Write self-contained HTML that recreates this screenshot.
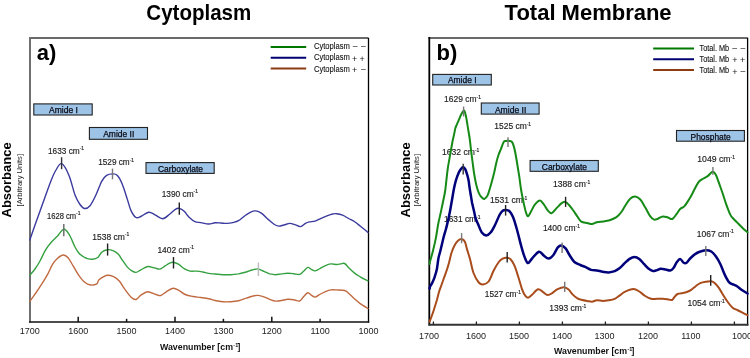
<!DOCTYPE html>
<html><head><meta charset="utf-8"><title>FTIR spectra</title>
<style>
html,body{margin:0;padding:0;background:#fff;}
body{width:750px;height:358px;overflow:hidden;position:relative;font-family:"Liberation Sans",sans-serif;}
svg{position:absolute;left:0;top:0;will-change:transform;}
</style></head>
<body>
<svg width="750" height="358" viewBox="0 0 750 358">
<text x="146.3" y="19.7" font-family="Liberation Sans, sans-serif" font-weight="bold" font-size="22.3" textLength="105" lengthAdjust="spacingAndGlyphs" fill="#000">Cytoplasm</text>
<text x="504.6" y="19.9" font-family="Liberation Sans, sans-serif" font-weight="bold" font-size="22" textLength="167" lengthAdjust="spacingAndGlyphs" fill="#000">Total Membrane</text>
<line x1="29" y1="38" x2="368.2" y2="38" stroke="#6a6a6a" stroke-width="2"/>
<line x1="30" y1="37" x2="30" y2="322.5" stroke="#707070" stroke-width="2"/>
<line x1="368.5" y1="37.8" x2="368.5" y2="322.5" stroke="#000" stroke-width="1.3"/>
<line x1="29" y1="322" x2="369.3" y2="322" stroke="#111" stroke-width="1.7"/>
<line x1="428.5" y1="38" x2="747.5" y2="38" stroke="#6a6a6a" stroke-width="2"/>
<line x1="429.3" y1="37" x2="429.3" y2="325.5" stroke="#000" stroke-width="1.8"/>
<line x1="747.6" y1="37.8" x2="747.6" y2="325.5" stroke="#000" stroke-width="1.3"/>
<line x1="428.5" y1="324.7" x2="748.4" y2="324.7" stroke="#333" stroke-width="2"/>
<line x1="78.2" y1="316.8" x2="78.2" y2="322" stroke="#111" stroke-width="1.5"/>
<line x1="126.6" y1="318.8" x2="126.6" y2="322" stroke="#111" stroke-width="1.5"/>
<line x1="175.0" y1="316.8" x2="175.0" y2="322" stroke="#111" stroke-width="1.5"/>
<line x1="223.4" y1="318.8" x2="223.4" y2="322" stroke="#111" stroke-width="1.5"/>
<line x1="271.8" y1="316.8" x2="271.8" y2="322" stroke="#111" stroke-width="1.5"/>
<line x1="320.1" y1="318.8" x2="320.1" y2="322" stroke="#111" stroke-width="1.5"/>
<line x1="433.4" y1="321.5" x2="433.4" y2="324.7" stroke="#222" stroke-width="1.3"/>
<line x1="476.4" y1="321.5" x2="476.4" y2="324.7" stroke="#222" stroke-width="1.3"/>
<line x1="519.4" y1="321.5" x2="519.4" y2="324.7" stroke="#222" stroke-width="1.3"/>
<line x1="562.4" y1="321.5" x2="562.4" y2="324.7" stroke="#222" stroke-width="1.3"/>
<line x1="605.4" y1="321.5" x2="605.4" y2="324.7" stroke="#222" stroke-width="1.3"/>
<line x1="648.4" y1="321.5" x2="648.4" y2="324.7" stroke="#222" stroke-width="1.3"/>
<line x1="691.4" y1="321.5" x2="691.4" y2="324.7" stroke="#222" stroke-width="1.3"/>
<line x1="734.4" y1="321.5" x2="734.4" y2="324.7" stroke="#222" stroke-width="1.3"/>
<text x="29.8" y="334.4" font-family="Liberation Sans, sans-serif" font-size="9" text-anchor="middle" fill="#222">1700</text>
<text x="78.2" y="334.4" font-family="Liberation Sans, sans-serif" font-size="9" text-anchor="middle" fill="#222">1600</text>
<text x="126.6" y="334.4" font-family="Liberation Sans, sans-serif" font-size="9" text-anchor="middle" fill="#222">1500</text>
<text x="175.0" y="334.4" font-family="Liberation Sans, sans-serif" font-size="9" text-anchor="middle" fill="#222">1400</text>
<text x="223.4" y="334.4" font-family="Liberation Sans, sans-serif" font-size="9" text-anchor="middle" fill="#222">1300</text>
<text x="271.8" y="334.4" font-family="Liberation Sans, sans-serif" font-size="9" text-anchor="middle" fill="#222">1200</text>
<text x="320.1" y="334.4" font-family="Liberation Sans, sans-serif" font-size="9" text-anchor="middle" fill="#222">1100</text>
<text x="368.5" y="334.4" font-family="Liberation Sans, sans-serif" font-size="9" text-anchor="middle" fill="#222">1000</text>
<text x="429.0" y="339" font-family="Liberation Sans, sans-serif" font-size="9" text-anchor="middle" fill="#222">1700</text>
<text x="476.1" y="339" font-family="Liberation Sans, sans-serif" font-size="9" text-anchor="middle" fill="#222">1600</text>
<text x="519.0" y="339" font-family="Liberation Sans, sans-serif" font-size="9" text-anchor="middle" fill="#222">1500</text>
<text x="562.0" y="339" font-family="Liberation Sans, sans-serif" font-size="9" text-anchor="middle" fill="#222">1400</text>
<text x="604.5" y="339" font-family="Liberation Sans, sans-serif" font-size="9" text-anchor="middle" fill="#222">1300</text>
<text x="648.0" y="339" font-family="Liberation Sans, sans-serif" font-size="9" text-anchor="middle" fill="#222">1200</text>
<text x="690.9" y="339" font-family="Liberation Sans, sans-serif" font-size="9" text-anchor="middle" fill="#222">1100</text>
<text x="732" y="339" font-family="Liberation Sans, sans-serif" font-size="9" fill="#222">1000</text>
<text x="160" y="350" font-family="Liberation Sans, sans-serif" font-weight="bold" font-size="8.5" textLength="73" lengthAdjust="spacingAndGlyphs" fill="#111">Wavenumber [cm</text>
<text x="233.3" y="346.5" font-family="Liberation Sans, sans-serif" font-weight="bold" font-size="5.5" fill="#111">-1</text>
<text x="237.5" y="350" font-family="Liberation Sans, sans-serif" font-weight="bold" font-size="8.5" fill="#111">]</text>
<text x="554.1" y="354.4" font-family="Liberation Sans, sans-serif" font-weight="bold" font-size="8.5" textLength="73" lengthAdjust="spacingAndGlyphs" fill="#111">Wavenumber [cm</text>
<text x="627.4" y="350.9" font-family="Liberation Sans, sans-serif" font-weight="bold" font-size="5.5" fill="#111">-1</text>
<text x="631.6" y="354.4" font-family="Liberation Sans, sans-serif" font-weight="bold" font-size="8.5" fill="#111">]</text>
<text transform="translate(11.2 217.5) rotate(-90)" font-family="Liberation Sans, sans-serif" font-weight="bold" font-size="12.6" textLength="75.2" lengthAdjust="spacingAndGlyphs" fill="#000">Absorbance</text>
<text transform="translate(22.3 206.4) rotate(-90)" font-family="Liberation Sans, sans-serif" font-size="7.2" textLength="52.4" lengthAdjust="spacingAndGlyphs" fill="#222">[Arbitrary Units]</text>
<text transform="translate(409.8 217.5) rotate(-90)" font-family="Liberation Sans, sans-serif" font-weight="bold" font-size="12.6" textLength="75.2" lengthAdjust="spacingAndGlyphs" fill="#000">Absorbance</text>
<text transform="translate(419.2 206.4) rotate(-90)" font-family="Liberation Sans, sans-serif" font-size="7.2" textLength="52.4" lengthAdjust="spacingAndGlyphs" fill="#222">[Arbitrary Units]</text>
<text x="36.8" y="60.3" font-family="Liberation Sans, sans-serif" font-weight="bold" font-size="22" fill="#000">a)</text>
<text x="436.5" y="60.4" font-family="Liberation Sans, sans-serif" font-weight="bold" font-size="22" fill="#000">b)</text>
<line x1="270.7" y1="47.1" x2="306.2" y2="47.1" stroke="#007800" stroke-width="2.0"/>
<text x="313.9" y="49.1" font-family="Liberation Sans, sans-serif" font-size="8.7" textLength="36.0" lengthAdjust="spacingAndGlyphs" fill="#111" stroke="#111" stroke-width="0.1">Cytoplasm</text>
<text x="355.2" y="48.9" font-family="Liberation Sans, sans-serif" font-size="8.6" text-anchor="middle" fill="#222">–</text>
<text x="363.4" y="48.9" font-family="Liberation Sans, sans-serif" font-size="8.6" text-anchor="middle" fill="#222">–</text>
<line x1="270.7" y1="57.8" x2="306.2" y2="57.8" stroke="#000070" stroke-width="2.0"/>
<text x="313.9" y="60.2" font-family="Liberation Sans, sans-serif" font-size="8.7" textLength="36.0" lengthAdjust="spacingAndGlyphs" fill="#111" stroke="#111" stroke-width="0.1">Cytoplasm</text>
<text x="354.6" y="61.5" font-family="Liberation Sans, sans-serif" font-size="9" text-anchor="middle" fill="#222">+</text>
<text x="362.2" y="61.5" font-family="Liberation Sans, sans-serif" font-size="9" text-anchor="middle" fill="#222">+</text>
<line x1="270.7" y1="68.5" x2="306.2" y2="68.5" stroke="#8c3c10" stroke-width="2.0"/>
<text x="313.9" y="71.8" font-family="Liberation Sans, sans-serif" font-size="8.7" textLength="36.0" lengthAdjust="spacingAndGlyphs" fill="#111" stroke="#111" stroke-width="0.1">Cytoplasm</text>
<text x="354.6" y="72.8" font-family="Liberation Sans, sans-serif" font-size="9" text-anchor="middle" fill="#222">+</text>
<text x="363.4" y="71.6" font-family="Liberation Sans, sans-serif" font-size="8.6" text-anchor="middle" fill="#222">–</text>
<line x1="653.2" y1="48.6" x2="694.0" y2="48.6" stroke="#007800" stroke-width="2.0"/>
<text x="699.5" y="50.6" font-family="Liberation Sans, sans-serif" font-size="8.7" textLength="29.7" lengthAdjust="spacingAndGlyphs" fill="#111" stroke="#111" stroke-width="0.1">Total. Mb</text>
<text x="734.7" y="50.5" font-family="Liberation Sans, sans-serif" font-size="8.6" text-anchor="middle" fill="#222">–</text>
<text x="743.0" y="50.5" font-family="Liberation Sans, sans-serif" font-size="8.6" text-anchor="middle" fill="#222">–</text>
<line x1="653.2" y1="59.2" x2="694.0" y2="59.2" stroke="#000070" stroke-width="2.0"/>
<text x="699.5" y="61.9" font-family="Liberation Sans, sans-serif" font-size="8.7" textLength="29.7" lengthAdjust="spacingAndGlyphs" fill="#111" stroke="#111" stroke-width="0.1">Total. Mb</text>
<text x="734.8" y="63.4" font-family="Liberation Sans, sans-serif" font-size="9" text-anchor="middle" fill="#222">+</text>
<text x="742.6" y="63.4" font-family="Liberation Sans, sans-serif" font-size="9" text-anchor="middle" fill="#222">+</text>
<line x1="653.2" y1="70.0" x2="694.0" y2="70.0" stroke="#8c3c10" stroke-width="2.0"/>
<text x="699.5" y="73.2" font-family="Liberation Sans, sans-serif" font-size="8.7" textLength="29.7" lengthAdjust="spacingAndGlyphs" fill="#111" stroke="#111" stroke-width="0.1">Total. Mb</text>
<text x="734.8" y="74.8" font-family="Liberation Sans, sans-serif" font-size="9" text-anchor="middle" fill="#222">+</text>
<text x="743.0" y="73.6" font-family="Liberation Sans, sans-serif" font-size="8.6" text-anchor="middle" fill="#222">–</text>
<rect x="33.8" y="103.9" width="58.4" height="11.1" fill="#9dc3e6" stroke="#222" stroke-width="1.1"/>
<text x="49.0" y="112.9" font-family="Liberation Sans, sans-serif" font-size="8.3" textLength="29.0" lengthAdjust="spacingAndGlyphs" fill="#0a0a14" stroke="#0a0a14" stroke-width="0.25">Amide I</text>
<rect x="89.4" y="127.5" width="58.1" height="11.8" fill="#9dc3e6" stroke="#222" stroke-width="1.1"/>
<text x="103.2" y="137.0" font-family="Liberation Sans, sans-serif" font-size="8.3" textLength="31.1" lengthAdjust="spacingAndGlyphs" fill="#0a0a14" stroke="#0a0a14" stroke-width="0.25">Amide II</text>
<rect x="146.0" y="162.6" width="68.2" height="10.8" fill="#9dc3e6" stroke="#222" stroke-width="1.1"/>
<text x="157.9" y="171.7" font-family="Liberation Sans, sans-serif" font-size="8.3" textLength="45.2" lengthAdjust="spacingAndGlyphs" fill="#0a0a14" stroke="#0a0a14" stroke-width="0.25">Carboxylate</text>
<rect x="432.7" y="74.4" width="58.6" height="10.6" fill="#9dc3e6" stroke="#222" stroke-width="1.1"/>
<text x="447.9" y="83.2" font-family="Liberation Sans, sans-serif" font-size="8.3" textLength="28.7" lengthAdjust="spacingAndGlyphs" fill="#0a0a14" stroke="#0a0a14" stroke-width="0.25">Amide I</text>
<rect x="481.3" y="103.0" width="57.8" height="11.1" fill="#9dc3e6" stroke="#222" stroke-width="1.1"/>
<text x="494.9" y="112.6" font-family="Liberation Sans, sans-serif" font-size="8.3" textLength="31.5" lengthAdjust="spacingAndGlyphs" fill="#0a0a14" stroke="#0a0a14" stroke-width="0.25">Amide II</text>
<rect x="530.1" y="160.5" width="68.2" height="10.8" fill="#9dc3e6" stroke="#222" stroke-width="1.1"/>
<text x="541.8" y="169.8" font-family="Liberation Sans, sans-serif" font-size="8.3" textLength="45.2" lengthAdjust="spacingAndGlyphs" fill="#0a0a14" stroke="#0a0a14" stroke-width="0.25">Carboxylate</text>
<rect x="676.5" y="130.5" width="67.9" height="10.7" fill="#9dc3e6" stroke="#222" stroke-width="1.1"/>
<text x="690.6" y="140.1" font-family="Liberation Sans, sans-serif" font-size="8.3" textLength="40.2" lengthAdjust="spacingAndGlyphs" fill="#0a0a14" stroke="#0a0a14" stroke-width="0.25">Phosphate</text>
<text x="48.0" y="153.6" font-family="Liberation Sans, sans-serif" font-size="8.2" fill="#222" stroke="#222" stroke-width="0.15"><tspan textLength="31.7" lengthAdjust="spacingAndGlyphs">1633 cm</tspan><tspan dy="-3.2" font-size="5">-1</tspan></text>
<text x="98.2" y="164.7" font-family="Liberation Sans, sans-serif" font-size="8.2" fill="#222" stroke="#222" stroke-width="0.15"><tspan textLength="31.5" lengthAdjust="spacingAndGlyphs">1529 cm</tspan><tspan dy="-3.2" font-size="5">-1</tspan></text>
<text x="161.7" y="196.6" font-family="Liberation Sans, sans-serif" font-size="8.2" fill="#222" stroke="#222" stroke-width="0.15"><tspan textLength="31.9" lengthAdjust="spacingAndGlyphs">1390 cm</tspan><tspan dy="-3.2" font-size="5">-1</tspan></text>
<text x="47.0" y="218.6" font-family="Liberation Sans, sans-serif" font-size="8.2" fill="#222" stroke="#222" stroke-width="0.15"><tspan textLength="29.1" lengthAdjust="spacingAndGlyphs">1628 cm</tspan><tspan dy="-3.2" font-size="5">-1</tspan></text>
<text x="92.3" y="239.6" font-family="Liberation Sans, sans-serif" font-size="8.2" fill="#222" stroke="#222" stroke-width="0.15"><tspan textLength="32.5" lengthAdjust="spacingAndGlyphs">1538 cm</tspan><tspan dy="-3.2" font-size="5">-1</tspan></text>
<text x="157.4" y="252.5" font-family="Liberation Sans, sans-serif" font-size="8.2" fill="#222" stroke="#222" stroke-width="0.15"><tspan textLength="32.3" lengthAdjust="spacingAndGlyphs">1402 cm</tspan><tspan dy="-3.2" font-size="5">-1</tspan></text>
<text x="444.0" y="102.1" font-family="Liberation Sans, sans-serif" font-size="8.2" fill="#222" stroke="#222" stroke-width="0.15"><tspan textLength="32.5" lengthAdjust="spacingAndGlyphs">1629 cm</tspan><tspan dy="-3.2" font-size="5">-1</tspan></text>
<text x="442.0" y="154.9" font-family="Liberation Sans, sans-serif" font-size="8.2" fill="#222" stroke="#222" stroke-width="0.15"><tspan textLength="32.9" lengthAdjust="spacingAndGlyphs">1632 cm</tspan><tspan dy="-3.2" font-size="5">-1</tspan></text>
<text x="444.0" y="222.0" font-family="Liberation Sans, sans-serif" font-size="8.2" fill="#222" stroke="#222" stroke-width="0.15"><tspan textLength="32.0" lengthAdjust="spacingAndGlyphs">1631 cm</tspan><tspan dy="-3.2" font-size="5">-1</tspan></text>
<text x="494.3" y="129.4" font-family="Liberation Sans, sans-serif" font-size="8.2" fill="#222" stroke="#222" stroke-width="0.15"><tspan textLength="32.4" lengthAdjust="spacingAndGlyphs">1525 cm</tspan><tspan dy="-3.2" font-size="5">-1</tspan></text>
<text x="490.0" y="202.8" font-family="Liberation Sans, sans-serif" font-size="8.2" fill="#222" stroke="#222" stroke-width="0.15"><tspan textLength="32.9" lengthAdjust="spacingAndGlyphs">1531 cm</tspan><tspan dy="-3.2" font-size="5">-1</tspan></text>
<text x="484.8" y="296.9" font-family="Liberation Sans, sans-serif" font-size="8.2" fill="#222" stroke="#222" stroke-width="0.15"><tspan textLength="31.7" lengthAdjust="spacingAndGlyphs">1527 cm</tspan><tspan dy="-3.2" font-size="5">-1</tspan></text>
<text x="552.9" y="187.0" font-family="Liberation Sans, sans-serif" font-size="8.2" fill="#222" stroke="#222" stroke-width="0.15"><tspan textLength="32.9" lengthAdjust="spacingAndGlyphs">1388 cm</tspan><tspan dy="-3.2" font-size="5">-1</tspan></text>
<text x="542.9" y="230.7" font-family="Liberation Sans, sans-serif" font-size="8.2" fill="#222" stroke="#222" stroke-width="0.15"><tspan textLength="32.6" lengthAdjust="spacingAndGlyphs">1400 cm</tspan><tspan dy="-3.2" font-size="5">-1</tspan></text>
<text x="549.2" y="310.8" font-family="Liberation Sans, sans-serif" font-size="8.2" fill="#222" stroke="#222" stroke-width="0.15"><tspan textLength="32.7" lengthAdjust="spacingAndGlyphs">1393 cm</tspan><tspan dy="-3.2" font-size="5">-1</tspan></text>
<text x="697.3" y="162.0" font-family="Liberation Sans, sans-serif" font-size="8.2" fill="#222" stroke="#222" stroke-width="0.15"><tspan textLength="33.2" lengthAdjust="spacingAndGlyphs">1049 cm</tspan><tspan dy="-3.2" font-size="5">-1</tspan></text>
<text x="696.8" y="236.5" font-family="Liberation Sans, sans-serif" font-size="8.2" fill="#222" stroke="#222" stroke-width="0.15"><tspan textLength="32.6" lengthAdjust="spacingAndGlyphs">1067 cm</tspan><tspan dy="-3.2" font-size="5">-1</tspan></text>
<text x="687.4" y="305.9" font-family="Liberation Sans, sans-serif" font-size="8.2" fill="#222" stroke="#222" stroke-width="0.15"><tspan textLength="33.0" lengthAdjust="spacingAndGlyphs">1054 cm</tspan><tspan dy="-3.2" font-size="5">-1</tspan></text>
<path d="M29.8 240.0 C31.0 236.7 34.4 226.7 36.8 220.0 C39.2 213.3 41.6 206.7 44.0 200.0 C46.4 193.3 49.3 185.0 51.3 180.0 C53.3 175.0 54.3 172.7 56.0 170.0 C57.7 167.3 59.4 162.8 61.6 163.7 C63.8 164.6 66.8 170.2 69.0 175.4 C71.2 180.6 73.2 190.2 75.0 195.0 C76.8 199.8 78.4 202.2 80.0 204.5 C81.6 206.8 83.0 208.3 84.7 208.5 C86.4 208.7 88.1 207.9 90.0 205.7 C91.9 203.4 94.0 199.1 95.9 195.0 C97.9 190.9 99.9 184.6 101.7 181.3 C103.5 178.0 104.8 176.6 106.6 175.4 C108.4 174.2 110.7 173.9 112.5 173.9 C114.3 173.9 115.8 173.7 117.4 175.4 C119.0 177.1 120.7 180.3 122.3 184.2 C123.9 188.1 125.8 194.5 127.2 198.9 C128.7 203.3 129.5 207.5 131.0 210.6 C132.5 213.7 134.4 216.5 136.0 217.5 C137.6 218.5 138.7 217.4 140.8 216.5 C142.9 215.6 146.3 212.5 148.7 212.2 C151.1 211.9 152.7 213.7 155.0 214.8 C157.3 215.9 160.3 218.8 162.7 218.7 C165.1 218.6 167.5 215.8 169.6 214.2 C171.7 212.6 173.8 210.3 175.4 209.3 C177.0 208.3 177.8 208.1 179.3 208.4 C180.8 208.7 182.6 209.8 184.2 211.3 C185.8 212.8 187.3 215.5 189.1 217.2 C190.9 218.9 193.1 220.8 195.0 221.7 C196.9 222.6 198.5 222.2 200.8 222.6 C203.1 223.0 206.3 224.0 208.7 224.0 C211.1 224.0 213.0 223.0 215.0 222.8 C217.0 222.6 219.0 222.9 220.9 223.0 C222.8 223.1 224.8 223.5 226.7 223.4 C228.6 223.3 230.6 223.1 232.6 222.6 C234.6 222.1 236.6 221.8 238.5 220.7 C240.4 219.6 242.4 217.6 244.3 216.2 C246.2 214.8 248.2 213.2 250.2 212.3 C252.1 211.4 254.0 210.7 256.0 210.9 C258.0 211.1 260.0 212.2 262.0 213.6 C264.0 215.0 265.9 217.4 267.8 219.1 C269.8 220.8 271.9 222.8 273.7 224.0 C275.5 225.2 276.9 225.9 278.6 226.1 C280.3 226.3 282.0 225.4 283.9 225.0 C285.8 224.6 288.0 223.5 289.8 223.4 C291.6 223.3 292.9 224.1 294.7 224.6 C296.5 225.1 298.7 226.8 300.5 226.6 C302.3 226.4 303.9 224.2 305.4 223.4 C306.9 222.6 307.7 222.3 309.3 221.9 C310.9 221.5 313.2 221.7 315.2 221.1 C317.2 220.5 319.1 219.2 321.1 218.3 C323.1 217.4 325.1 216.5 327.0 215.8 C328.9 215.1 331.2 214.3 332.8 214.0 C334.4 213.7 335.1 213.5 336.7 213.7 C338.3 213.9 340.6 214.4 342.6 215.2 C344.6 216.0 346.6 217.4 348.5 218.5 C350.4 219.6 352.4 220.2 354.3 221.5 C356.2 222.8 357.9 224.2 360.2 226.0 C362.5 227.8 366.7 231.4 368.0 232.5" fill="none" stroke="#3a3a9e" stroke-width="1.40" stroke-linejoin="round" stroke-linecap="round"/>
<path d="M30.0 275.0 C30.8 274.0 33.3 271.3 35.0 269.0 C36.7 266.7 38.2 264.2 40.0 261.0 C41.8 257.8 43.7 253.1 45.6 249.9 C47.5 246.7 49.5 244.3 51.5 242.0 C53.5 239.7 55.2 238.3 57.3 236.2 C59.3 234.1 61.8 229.6 63.8 229.3 C65.8 229.0 67.1 231.2 69.0 234.2 C70.9 237.1 73.4 243.9 75.0 247.0 C76.6 250.1 77.5 251.4 78.8 253.0 C80.1 254.6 81.7 255.6 83.0 256.5 C84.3 257.4 85.1 257.9 86.7 258.3 C88.3 258.8 90.7 259.3 92.5 259.2 C94.3 259.1 96.3 258.6 97.8 257.5 C99.3 256.4 100.1 253.6 101.7 252.3 C103.3 251.0 105.6 249.9 107.6 249.7 C109.6 249.5 111.7 250.2 113.5 250.9 C115.3 251.7 116.9 252.7 118.4 254.2 C119.9 255.7 120.8 258.0 122.3 260.1 C123.8 262.2 125.7 265.2 127.2 266.9 C128.7 268.6 129.6 269.5 131.1 270.4 C132.6 271.3 134.4 272.5 136.0 272.4 C137.6 272.3 138.9 270.9 140.8 269.9 C142.8 268.9 145.4 266.8 147.7 266.5 C150.0 266.2 152.5 267.5 154.5 267.9 C156.5 268.3 158.1 269.4 159.8 269.1 C161.5 268.8 163.1 267.2 164.7 266.2 C166.3 265.2 168.2 263.8 169.6 263.2 C171.0 262.6 171.6 262.1 173.1 262.3 C174.6 262.5 176.6 263.1 178.4 264.2 C180.2 265.3 182.2 267.5 184.2 268.7 C186.1 269.9 188.0 270.7 190.1 271.1 C192.2 271.5 194.8 271.0 196.9 271.1 C199.0 271.2 200.8 271.6 202.8 272.0 C204.8 272.4 206.7 273.1 208.7 273.4 C210.7 273.7 212.7 273.8 215.0 274.0 C217.3 274.2 220.2 274.6 222.8 274.7 C225.4 274.8 228.0 274.8 230.6 274.7 C233.2 274.6 235.9 274.3 238.5 273.9 C241.1 273.4 244.0 272.6 246.3 272.0 C248.6 271.4 250.2 270.5 252.2 270.0 C254.1 269.5 256.1 268.7 258.0 268.9 C259.9 269.1 261.9 270.6 263.9 271.4 C265.9 272.2 267.9 273.3 269.8 273.9 C271.8 274.4 273.7 274.7 275.6 274.7 C277.6 274.7 279.5 274.1 281.5 273.9 C283.5 273.7 285.8 273.3 287.8 273.3 C289.8 273.3 291.7 273.5 293.7 273.7 C295.7 273.9 298.0 274.8 299.6 274.4 C301.2 274.0 302.1 272.5 303.5 271.3 C304.9 270.1 306.5 267.7 307.8 267.4 C309.1 267.1 310.1 268.7 311.3 269.3 C312.5 269.9 313.5 270.9 314.8 270.9 C316.1 270.8 317.4 269.9 319.1 269.0 C320.8 268.1 323.0 266.7 325.0 265.8 C327.0 264.9 328.9 264.1 330.9 263.9 C332.8 263.7 335.1 264.5 336.7 264.5 C338.3 264.5 339.4 264.1 340.7 263.9 C342.0 263.7 343.3 262.9 344.6 263.5 C345.9 264.1 346.9 265.8 348.5 267.4 C350.1 269.0 352.4 271.3 354.3 272.9 C356.2 274.5 357.9 275.4 360.2 276.8 C362.5 278.2 366.7 280.3 368.0 281.0" fill="none" stroke="#35a040" stroke-width="1.40" stroke-linejoin="round" stroke-linecap="round"/>
<path d="M30.0 301.2 C31.0 299.8 33.8 295.8 35.8 293.0 C37.8 290.2 39.7 287.3 41.7 284.2 C43.7 281.1 45.8 277.6 47.6 274.4 C49.4 271.1 50.8 267.3 52.4 264.7 C54.0 262.1 55.5 260.1 57.3 258.5 C59.1 256.9 61.4 255.1 63.2 255.0 C65.0 254.9 66.5 256.0 68.1 257.8 C69.7 259.6 71.2 262.7 73.0 265.6 C74.8 268.5 76.8 272.6 78.8 275.4 C80.8 278.2 82.7 280.7 84.7 282.3 C86.7 283.9 88.6 284.7 90.6 285.0 C92.6 285.3 95.4 284.7 96.8 283.9 C98.2 283.1 97.6 281.2 98.8 280.0 C100.0 278.8 102.2 277.5 103.7 276.7 C105.2 275.9 106.0 275.3 107.6 275.3 C109.2 275.3 111.5 275.8 113.5 276.7 C115.5 277.6 117.5 279.1 119.3 281.0 C121.1 282.9 122.2 285.7 124.2 288.4 C126.2 291.1 129.1 295.3 131.1 297.2 C133.1 299.1 134.4 299.8 136.0 299.5 C137.6 299.2 138.9 296.5 140.8 295.2 C142.8 293.9 145.2 291.8 147.7 291.7 C150.2 291.6 153.7 293.9 155.9 294.5 C158.1 295.1 159.0 296.0 160.8 295.5 C162.6 295.0 164.6 292.8 166.6 291.6 C168.6 290.4 171.0 288.5 173.1 288.3 C175.2 288.1 177.3 289.6 179.3 290.6 C181.3 291.6 182.9 293.5 185.2 294.5 C187.5 295.5 190.4 296.0 193.0 296.5 C195.6 297.0 198.2 297.1 200.8 297.5 C203.4 297.9 206.3 298.3 208.7 298.8 C211.1 299.3 212.7 300.0 215.0 300.5 C217.3 301.0 220.2 301.5 222.8 301.7 C225.4 301.9 228.0 301.9 230.6 301.7 C233.2 301.5 235.9 301.3 238.5 300.7 C241.1 300.1 244.0 298.9 246.3 298.2 C248.6 297.4 250.2 296.7 252.2 296.2 C254.1 295.7 256.1 295.3 258.0 295.4 C259.9 295.5 261.9 296.1 263.9 296.8 C265.9 297.5 267.9 298.7 269.8 299.4 C271.8 300.1 273.7 300.9 275.6 301.1 C277.6 301.3 279.5 300.8 281.5 300.5 C283.5 300.2 285.8 299.4 287.8 299.3 C289.8 299.2 291.7 299.4 293.7 299.7 C295.7 300.0 298.0 301.5 299.6 301.0 C301.2 300.5 302.1 298.1 303.5 296.7 C304.9 295.3 306.5 293.1 307.8 292.8 C309.1 292.6 310.1 294.5 311.3 295.2 C312.5 295.9 313.9 297.2 315.2 297.1 C316.5 297.0 317.5 295.7 319.1 294.8 C320.7 293.9 323.0 292.6 325.0 291.8 C327.0 291.0 328.9 290.2 330.9 289.9 C332.8 289.6 334.4 289.8 336.7 289.9 C339.0 290.0 342.6 289.9 344.6 290.5 C346.6 291.1 346.9 291.8 348.5 293.2 C350.1 294.6 352.4 297.0 354.3 298.7 C356.2 300.4 357.9 302.0 360.2 303.6 C362.5 305.2 366.7 307.7 368.0 308.5" fill="none" stroke="#c06a40" stroke-width="1.40" stroke-linejoin="round" stroke-linecap="round"/>
<path d="M429.6 264.0 C429.7 263.5 429.6 263.0 430.2 260.8 C430.8 258.6 432.1 254.4 433.0 250.7 C433.9 247.0 434.9 242.8 435.8 238.4 C436.7 234.0 437.4 228.3 438.2 224.0 C439.0 219.7 440.0 216.1 440.8 212.3 C441.6 208.5 442.4 204.9 443.1 201.2 C443.9 197.5 444.6 195.1 445.3 190.0 C446.0 184.9 446.8 175.8 447.5 170.5 C448.2 165.2 448.8 162.3 449.5 158.4 C450.2 154.5 450.9 150.1 451.5 147.0 C452.1 143.9 452.3 142.4 452.8 140.0 C453.3 137.6 454.1 134.4 454.5 132.4 C454.9 130.4 455.0 129.3 455.4 128.0 C455.8 126.7 456.2 126.0 456.8 124.6 C457.4 123.2 458.3 121.3 459.0 119.6 C459.7 117.9 460.4 116.0 461.2 114.5 C462.0 113.0 463.0 110.9 463.7 110.6 C464.4 110.3 464.7 111.6 465.1 112.8 C465.5 114.0 465.9 115.9 466.3 117.9 C466.7 119.9 467.0 122.4 467.4 124.6 C467.8 126.8 468.1 129.1 468.5 131.3 C468.9 133.5 469.2 135.2 469.6 138.0 C470.0 140.8 470.4 144.3 470.8 148.0 C471.2 151.7 471.9 156.8 472.3 160.0 C472.7 163.2 472.9 164.7 473.2 167.0 C473.5 169.3 473.8 171.4 474.2 174.0 C474.6 176.6 475.2 179.8 475.7 182.3 C476.2 184.8 476.8 186.9 477.4 189.0 C478.0 191.1 478.8 193.1 479.6 194.6 C480.4 196.1 481.6 197.3 482.4 198.0 C483.2 198.7 483.6 199.2 484.5 198.8 C485.4 198.4 486.7 197.2 487.6 195.4 C488.5 193.6 489.3 190.4 490.0 188.0 C490.7 185.6 491.3 183.6 492.0 181.0 C492.7 178.4 493.4 175.7 494.2 172.5 C494.9 169.3 495.8 164.9 496.5 162.0 C497.2 159.1 497.8 157.1 498.5 155.0 C499.2 152.9 499.9 151.5 500.8 149.3 C501.7 147.1 502.8 143.4 503.7 142.0 C504.6 140.6 504.9 141.2 506.0 141.0 C507.1 140.8 509.0 140.8 510.0 141.0 C511.0 141.2 511.4 141.3 512.0 142.0 C512.6 142.7 512.9 143.5 513.5 145.4 C514.1 147.3 514.8 149.9 515.4 153.2 C516.0 156.5 516.8 161.1 517.4 165.0 C518.0 168.9 518.6 172.4 519.3 176.7 C519.9 181.0 520.5 186.2 521.3 191.0 C522.1 195.8 523.4 201.7 524.2 205.4 C525.0 209.1 525.6 211.4 526.2 213.2 C526.9 215.0 527.3 216.5 528.1 216.2 C528.9 215.9 530.0 213.3 531.1 211.3 C532.2 209.3 533.5 206.2 535.0 204.4 C536.5 202.6 538.4 200.5 539.9 200.5 C541.4 200.5 542.5 202.8 543.8 204.4 C545.1 206.0 546.4 208.8 547.7 210.3 C549.0 211.8 550.3 213.4 551.6 213.2 C552.9 213.0 554.5 210.4 555.5 209.3 C556.5 208.2 556.8 207.9 557.8 206.9 C558.8 205.9 560.5 204.0 561.7 203.2 C563.0 202.4 564.1 201.6 565.3 201.9 C566.5 202.2 567.5 203.4 568.8 204.8 C570.1 206.2 571.9 208.6 573.3 210.5 C574.7 212.4 575.9 214.5 577.2 216.3 C578.5 218.2 579.6 220.5 581.3 221.6 C583.0 222.7 585.4 222.6 587.2 223.0 C589.0 223.4 590.4 224.2 592.0 224.1 C593.6 224.0 595.1 222.6 596.9 222.2 C598.7 221.8 600.8 221.7 602.8 221.4 C604.8 221.1 606.9 221.0 608.7 220.5 C610.6 220.0 612.4 219.2 613.9 218.5 C615.4 217.8 616.5 217.2 617.8 216.0 C619.1 214.8 620.5 213.2 621.7 211.5 C622.9 209.8 623.8 207.9 625.2 205.8 C626.6 203.7 628.5 200.3 630.2 198.8 C631.9 197.3 633.5 196.5 635.2 196.6 C636.9 196.7 638.6 197.7 640.3 199.5 C642.0 201.3 643.6 204.8 645.3 207.6 C647.0 210.4 648.8 214.4 650.3 216.4 C651.8 218.4 652.8 219.2 654.1 219.6 C655.4 220.0 656.4 219.2 657.9 218.7 C659.4 218.2 661.2 216.6 662.9 216.4 C664.6 216.2 666.3 217.1 667.9 217.5 C669.5 217.9 670.8 219.6 672.3 219.0 C673.8 218.4 675.4 215.6 676.7 213.9 C678.0 212.2 678.8 210.3 680.1 209.0 C681.4 207.7 683.0 207.7 684.5 206.1 C686.0 204.5 687.7 201.6 689.0 199.5 C690.3 197.4 691.2 195.8 692.3 193.7 C693.4 191.6 694.6 189.0 695.7 187.0 C696.8 185.0 697.7 182.9 699.0 181.5 C700.3 180.1 702.0 179.4 703.5 178.5 C705.0 177.6 706.5 177.0 708.0 175.9 C709.5 174.8 711.2 172.0 712.5 171.8 C713.8 171.6 714.7 172.7 715.8 174.7 C716.9 176.7 718.1 180.6 719.2 183.7 C720.3 186.8 721.4 189.7 722.5 193.0 C723.6 196.3 724.6 199.8 725.9 203.4 C727.2 207.0 729.0 212.0 730.3 214.6 C731.6 217.2 732.4 217.5 733.7 219.0 C735.0 220.5 736.7 222.0 738.2 223.5 C739.7 225.0 741.1 226.5 742.6 228.0 C744.1 229.5 746.7 231.6 747.5 232.3" fill="none" stroke="#168a16" stroke-width="2.00" stroke-linejoin="round" stroke-linecap="round"/>
<path d="M429.6 288.6 C429.7 288.2 429.7 287.4 430.2 286.3 C430.7 285.2 431.8 283.9 432.5 282.3 C433.2 280.7 434.0 279.0 434.7 276.8 C435.4 274.6 436.3 272.0 436.9 268.9 C437.5 265.8 437.9 260.9 438.5 258.0 C439.1 255.1 439.3 254.9 440.2 251.5 C441.1 248.1 442.7 240.9 443.6 237.3 C444.5 233.7 445.0 232.5 445.7 230.0 C446.4 227.5 446.9 225.3 447.6 222.4 C448.3 219.5 449.1 215.9 449.8 212.3 C450.5 208.7 451.1 204.8 451.8 201.0 C452.5 197.2 453.2 192.4 453.8 189.5 C454.4 186.6 454.6 185.4 455.1 183.5 C455.6 181.6 456.1 179.6 456.7 177.9 C457.2 176.2 457.8 174.8 458.4 173.4 C459.0 172.0 459.9 170.5 460.6 169.5 C461.4 168.5 462.1 167.4 462.9 167.3 C463.6 167.2 464.5 168.0 465.1 169.0 C465.8 170.0 466.2 171.6 466.8 173.4 C467.4 175.2 468.0 177.7 468.5 180.1 C469.0 182.5 469.2 185.3 469.6 187.9 C470.0 190.5 470.5 193.3 470.9 195.8 C471.3 198.3 471.6 200.3 472.1 203.0 C472.7 205.7 473.6 209.3 474.2 212.0 C474.8 214.7 475.2 217.1 475.8 219.0 C476.4 220.9 476.9 221.4 477.9 223.7 C478.9 225.9 480.4 230.6 481.8 232.5 C483.2 234.4 484.8 235.4 486.3 235.4 C487.8 235.4 489.2 234.2 490.6 232.5 C492.1 230.8 493.5 227.9 495.0 225.0 C496.5 222.1 498.2 217.4 499.5 215.0 C500.8 212.6 501.7 211.6 502.7 210.8 C503.7 210.0 504.5 209.9 505.6 210.0 C506.8 210.1 508.4 210.1 509.6 211.3 C510.8 212.5 511.8 214.1 513.0 217.0 C514.2 219.9 515.6 224.7 516.8 229.0 C518.0 233.3 519.4 239.1 520.3 242.6 C521.2 246.1 521.5 247.1 522.3 249.8 C523.1 252.5 524.2 256.4 525.2 258.6 C526.2 260.8 527.0 263.1 528.1 263.1 C529.2 263.1 530.2 260.5 532.0 258.6 C533.8 256.7 536.9 252.2 538.9 251.7 C540.9 251.2 542.2 254.4 543.8 255.6 C545.4 256.8 547.1 258.8 548.7 258.6 C550.3 258.5 552.1 256.6 553.6 254.7 C555.1 252.8 556.5 248.9 557.8 247.4 C559.1 245.9 560.0 245.2 561.3 245.4 C562.6 245.6 564.2 246.8 565.6 248.4 C567.0 250.0 568.1 252.9 569.6 255.2 C571.1 257.5 572.6 260.4 574.4 262.0 C576.2 263.6 578.5 264.2 580.3 265.0 C582.1 265.8 583.4 266.1 585.2 266.9 C587.0 267.7 589.2 269.3 591.1 269.9 C593.0 270.5 595.0 270.1 596.9 270.4 C598.8 270.7 600.8 271.5 602.8 271.8 C604.8 272.1 606.7 272.5 608.7 272.4 C610.7 272.3 612.9 271.9 614.7 271.2 C616.6 270.5 618.1 269.4 619.8 268.1 C621.5 266.8 623.1 264.7 624.7 263.2 C626.3 261.7 628.0 259.9 629.6 258.9 C631.2 257.9 632.8 257.0 634.4 257.0 C636.0 257.0 637.7 257.7 639.3 258.9 C640.9 260.1 642.6 262.5 644.2 264.2 C645.8 265.9 647.6 268.0 649.1 269.1 C650.6 270.2 651.7 270.9 653.0 271.1 C654.3 271.3 655.6 270.5 656.9 270.1 C658.2 269.7 659.3 268.8 660.8 268.7 C662.3 268.6 664.1 269.2 665.7 269.5 C667.3 269.8 669.0 270.8 670.3 270.5 C671.6 270.2 672.4 269.4 673.5 268.0 C674.6 266.6 675.6 263.8 676.7 262.3 C677.8 260.8 679.0 258.9 680.1 258.9 C681.2 258.9 682.4 261.8 683.4 262.5 C684.4 263.2 685.1 263.7 686.2 263.0 C687.3 262.3 688.7 259.9 690.1 258.5 C691.5 257.1 693.1 255.6 694.6 254.5 C696.1 253.4 697.1 252.7 699.0 252.0 C700.9 251.3 703.8 250.3 705.8 250.2 C707.8 250.1 709.6 250.5 711.3 251.5 C713.0 252.5 714.3 254.2 715.8 256.3 C717.3 258.4 718.8 260.9 720.3 264.0 C721.8 267.1 723.2 271.5 724.7 274.6 C726.2 277.7 727.7 280.7 729.2 282.4 C730.7 284.1 732.4 284.0 733.7 284.6 C735.0 285.2 735.7 285.3 737.0 286.2 C738.3 287.1 739.8 288.6 741.5 289.8 C743.2 291.0 746.5 292.9 747.5 293.5" fill="none" stroke="#00007a" stroke-width="2.50" stroke-linejoin="round" stroke-linecap="round"/>
<path d="M429.6 321.6 C430.2 320.1 431.7 316.4 432.9 312.8 C434.1 309.2 435.8 303.6 436.9 300.0 C437.9 296.4 438.3 294.1 439.2 291.3 C440.1 288.6 441.1 286.1 442.0 283.5 C442.9 280.9 443.9 278.1 444.8 275.6 C445.7 273.1 446.6 270.8 447.3 268.5 C448.0 266.2 448.5 264.7 449.2 262.0 C449.9 259.3 450.7 255.3 451.6 252.5 C452.5 249.7 453.7 247.1 454.8 245.1 C455.9 243.1 457.1 241.6 458.2 240.6 C459.3 239.6 460.4 238.8 461.5 239.0 C462.6 239.2 464.0 240.0 464.9 241.8 C465.8 243.6 466.2 246.7 467.1 249.6 C468.0 252.5 468.9 255.1 470.0 259.0 C471.1 262.9 472.0 269.1 473.5 273.0 C475.0 276.9 477.2 280.6 478.8 282.5 C480.4 284.4 481.5 284.6 483.1 284.4 C484.7 284.2 486.8 283.8 488.6 281.5 C490.4 279.2 492.0 273.8 493.7 270.5 C495.4 267.2 497.3 264.0 498.8 262.0 C500.3 260.0 501.4 259.3 502.7 258.6 C504.0 257.9 505.3 257.7 506.6 257.8 C507.9 257.9 509.2 257.9 510.5 259.2 C511.8 260.5 513.1 262.4 514.4 265.4 C515.7 268.4 517.1 273.1 518.4 277.2 C519.7 281.3 521.2 286.8 522.3 289.9 C523.4 293.0 524.2 294.4 525.2 295.7 C526.2 297.0 527.0 297.8 528.1 297.7 C529.2 297.6 530.4 296.2 532.0 294.8 C533.6 293.4 536.1 289.8 537.9 289.3 C539.7 288.8 541.2 290.8 542.8 291.8 C544.4 292.8 546.1 294.9 547.7 295.1 C549.3 295.3 551.0 293.8 552.6 292.8 C554.2 291.8 555.7 290.1 557.6 289.2 C559.5 288.3 562.3 287.1 564.1 287.2 C565.9 287.3 567.2 288.4 568.6 289.6 C570.0 290.8 571.0 292.9 572.5 294.4 C574.0 295.9 575.9 297.5 577.4 298.4 C578.9 299.3 579.7 299.3 581.3 299.7 C582.9 300.1 585.4 300.6 587.2 300.9 C589.0 301.2 590.4 301.8 592.0 301.7 C593.6 301.6 595.1 300.4 596.9 300.3 C598.7 300.2 600.8 300.9 602.8 300.9 C604.8 300.9 606.7 300.6 608.7 300.3 C610.7 300.0 612.9 299.7 614.7 298.9 C616.6 298.1 618.1 296.6 619.8 295.4 C621.5 294.2 622.4 293.0 624.7 291.9 C627.0 290.8 631.1 289.1 633.5 289.0 C635.9 288.9 637.3 290.3 639.3 291.5 C641.2 292.7 643.2 294.8 645.2 296.0 C647.2 297.2 649.2 298.3 651.1 298.8 C653.0 299.3 655.0 298.8 656.9 298.8 C658.8 298.8 660.8 298.7 662.8 298.8 C664.8 298.9 667.1 299.3 668.7 299.5 C670.3 299.7 671.2 300.4 672.2 300.0 C673.2 299.6 673.6 298.0 674.5 297.0 C675.4 296.0 676.0 294.7 677.5 294.0 C679.0 293.3 681.9 293.2 683.4 292.9 C684.9 292.6 685.5 292.5 686.8 292.0 C688.1 291.5 689.7 290.8 691.2 289.8 C692.7 288.8 694.2 287.3 695.7 286.2 C697.2 285.1 698.5 283.9 700.2 283.1 C701.9 282.4 703.9 282.0 705.8 281.7 C707.6 281.4 709.8 281.1 711.3 281.3 C712.8 281.5 713.4 281.9 714.7 283.1 C716.0 284.3 717.7 286.3 719.2 288.4 C720.7 290.5 722.1 293.4 723.6 295.8 C725.1 298.2 726.6 300.5 728.1 302.5 C729.6 304.5 731.1 306.5 732.6 307.7 C734.1 308.9 735.5 309.2 737.0 309.9 C738.5 310.6 739.8 311.2 741.5 312.1 C743.2 313.0 746.5 314.7 747.5 315.2" fill="none" stroke="#a84c1c" stroke-width="2.00" stroke-linejoin="round" stroke-linecap="round"/>
<line x1="61.6" y1="157.2" x2="61.6" y2="169.2" stroke="#333" stroke-width="1.4"/>
<line x1="112.5" y1="168.6" x2="112.5" y2="179.3" stroke="#777" stroke-width="1.4"/>
<line x1="179.3" y1="202.5" x2="179.3" y2="214.8" stroke="#222" stroke-width="1.4"/>
<line x1="63.8" y1="223.9" x2="63.8" y2="236.2" stroke="#666" stroke-width="1.4"/>
<line x1="107.6" y1="243.5" x2="107.6" y2="255.6" stroke="#222" stroke-width="1.4"/>
<line x1="173.5" y1="257.0" x2="173.5" y2="268.5" stroke="#222" stroke-width="1.4"/>
<line x1="258.4" y1="262.6" x2="258.4" y2="275.9" stroke="#bbb" stroke-width="1.4"/>
<line x1="463.6" y1="106.6" x2="463.6" y2="116.4" stroke="#777" stroke-width="1.4"/>
<line x1="463.2" y1="163.7" x2="463.2" y2="174.4" stroke="#333" stroke-width="1.4"/>
<line x1="461.6" y1="233.1" x2="461.6" y2="243.2" stroke="#777" stroke-width="1.4"/>
<line x1="508.0" y1="137.2" x2="508.0" y2="147.0" stroke="#777" stroke-width="1.4"/>
<line x1="505.6" y1="205.0" x2="505.6" y2="215.6" stroke="#222" stroke-width="1.4"/>
<line x1="507.2" y1="252.1" x2="507.2" y2="262.5" stroke="#222" stroke-width="1.4"/>
<line x1="565.6" y1="196.8" x2="565.6" y2="206.9" stroke="#222" stroke-width="1.4"/>
<line x1="562.1" y1="242.5" x2="562.1" y2="252.9" stroke="#777" stroke-width="1.4"/>
<line x1="564.7" y1="281.7" x2="564.7" y2="291.9" stroke="#777" stroke-width="1.4"/>
<line x1="712.9" y1="166.9" x2="712.9" y2="174.7" stroke="#777" stroke-width="1.4"/>
<line x1="705.8" y1="245.9" x2="705.8" y2="255.9" stroke="#777" stroke-width="1.4"/>
<line x1="710.7" y1="275.0" x2="710.7" y2="285.8" stroke="#222" stroke-width="1.4"/>
</svg>
</body></html>
